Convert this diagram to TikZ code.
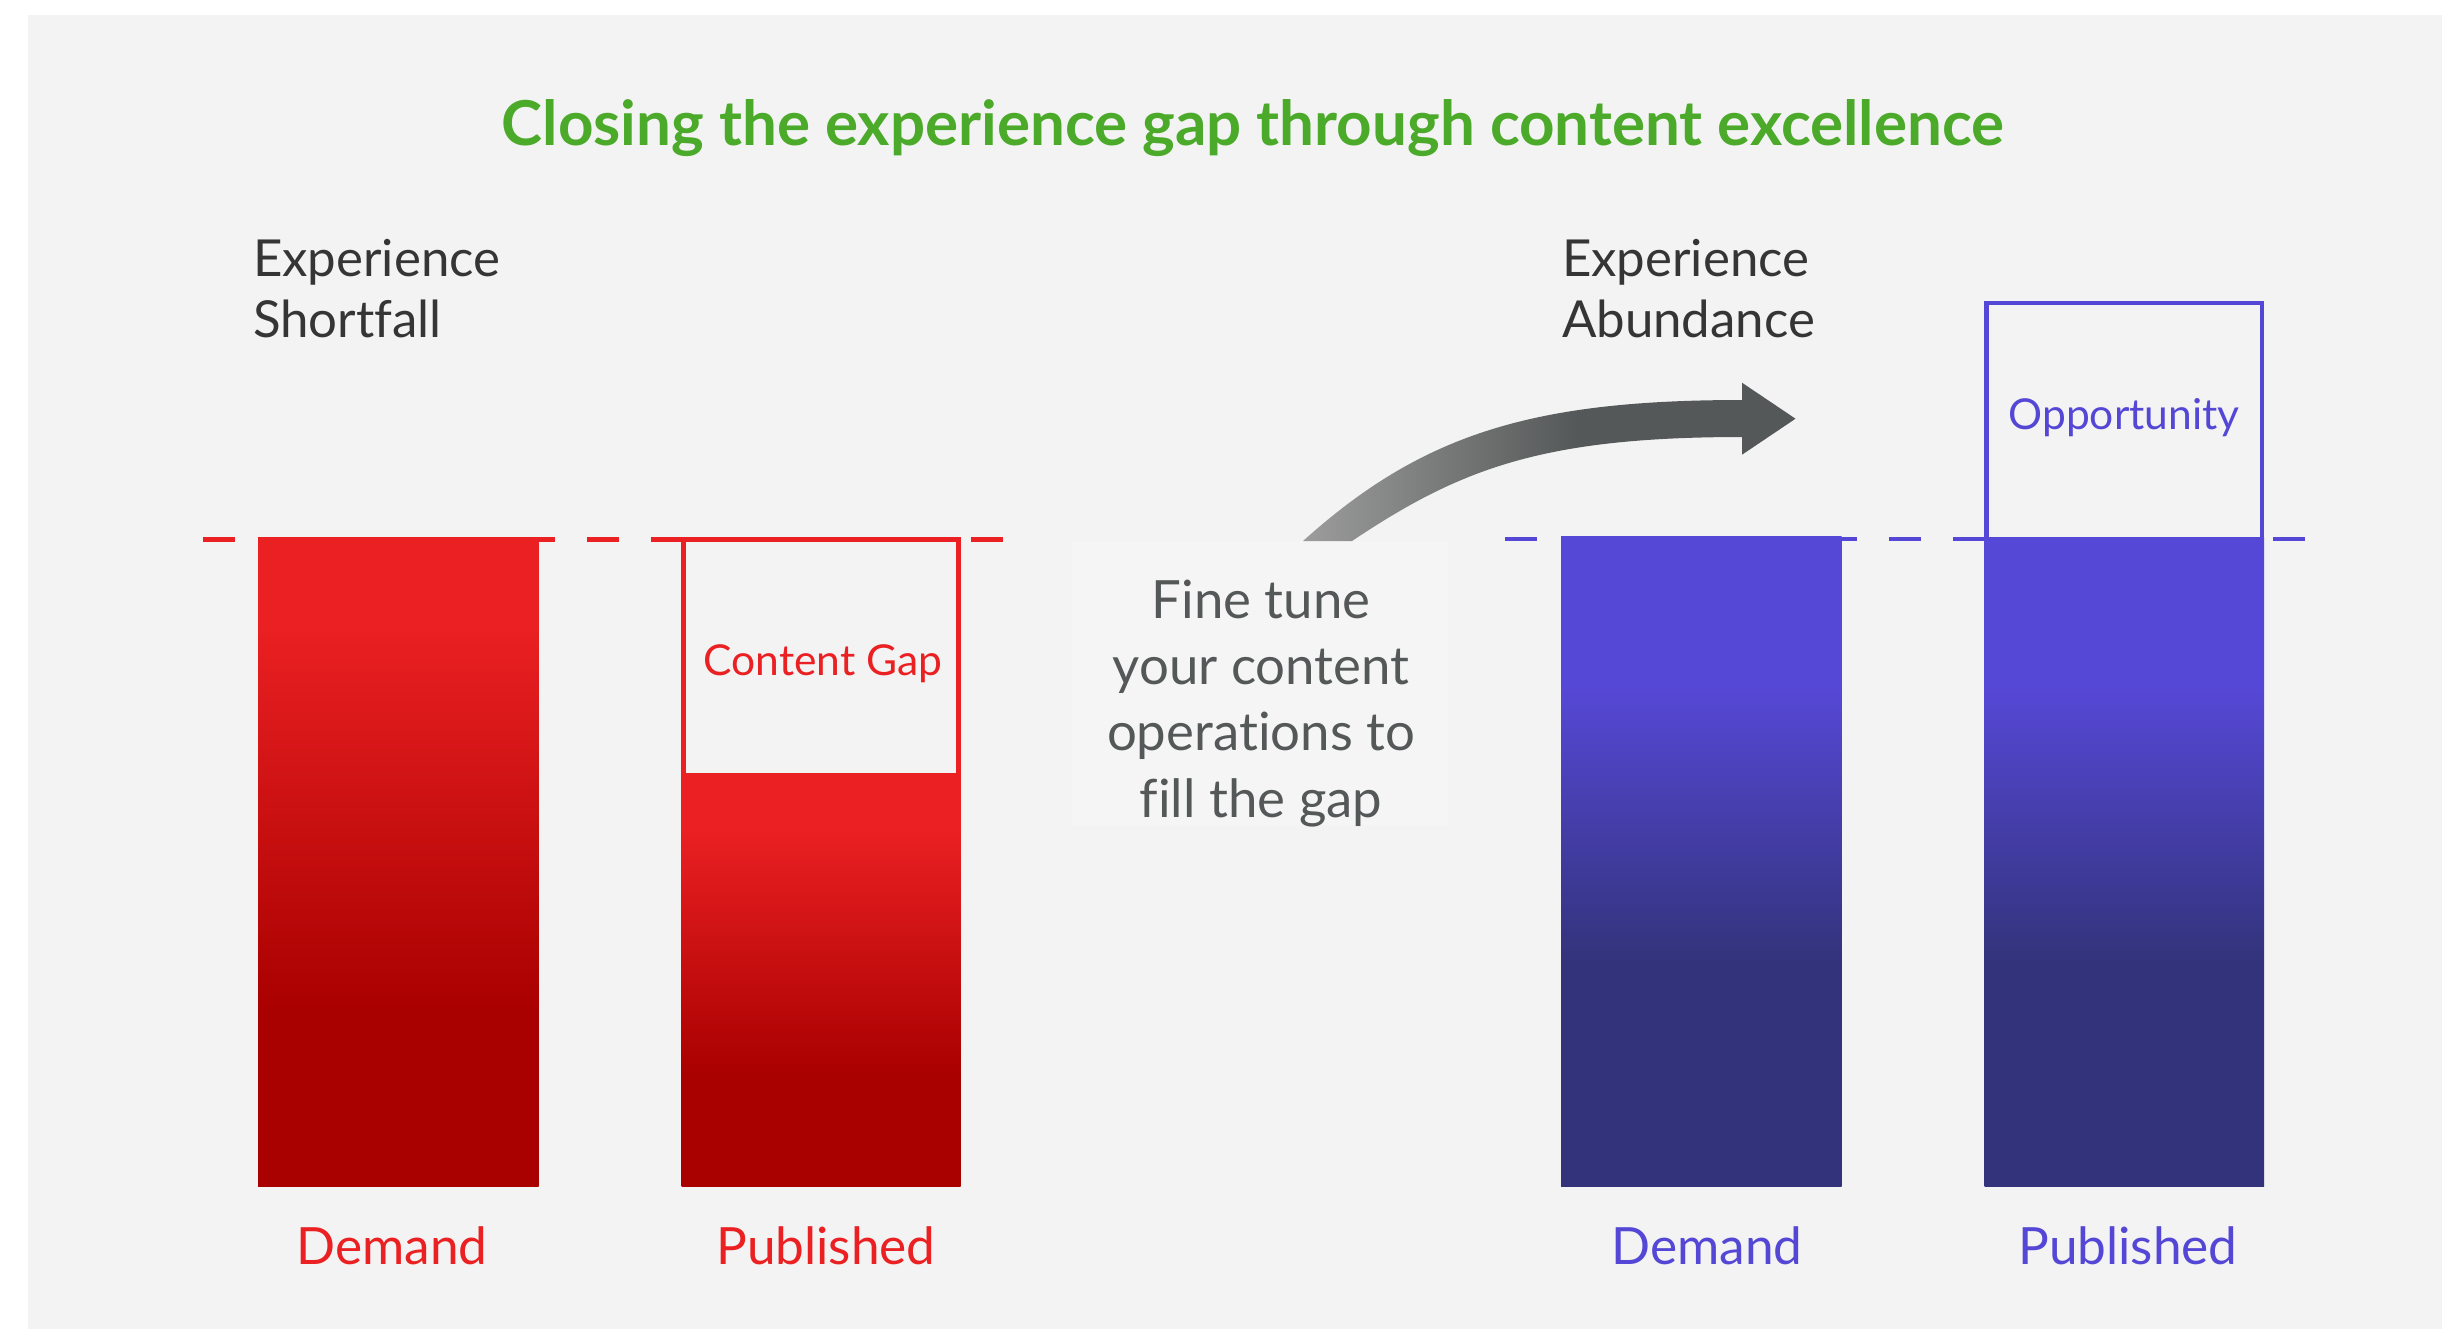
\documentclass[tikz,border=0pt]{standalone}
\usepackage{fontspec}
\setmainfont{Lato}[Ligatures=NoCommon]

\definecolor{bg}{HTML}{F3F3F3}
\definecolor{boxbg}{HTML}{F5F5F5}
\definecolor{titlegreen}{HTML}{4BAA2A}
\definecolor{darktext}{HTML}{353535}
\definecolor{graytext}{HTML}{555858}
\definecolor{redbright}{HTML}{EA2022}
\definecolor{reddark}{HTML}{A90000}
\definecolor{bluebright}{HTML}{5648D6}
\definecolor{bluedark}{HTML}{32337A}
\definecolor{blueline}{HTML}{5447D5}
\definecolor{arlight}{HTML}{9C9C9C}
\definecolor{ardark}{HTML}{555858}

% bar fills: dark at the foot, bright at the top (path spans 25bp..75bp)
\pgfdeclareverticalshading{redbar}{100bp}{color(0bp)=(reddark); color(38.5bp)=(reddark); color(68bp)=(redbright); color(100bp)=(redbright)}
\pgfdeclareverticalshading{bluebar}{100bp}{color(0bp)=(bluedark); color(42bp)=(bluedark); color(63.5bp)=(bluebright); color(100bp)=(bluebright)}
\pgfdeclarehorizontalshading{arrowshade}{100bp}{color(0bp)=(arlight); color(25bp)=(arlight); color(53bp)=(ardark); color(100bp)=(ardark)}

\begin{document}
\begin{tikzpicture}[x=0.01cm,y=-0.01cm,
  every node/.style={inner sep=0pt, outer sep=0pt},
  dashline/.style={line width=0.045cm, dash pattern=on 0.32cm off 0.32cm},
  boxline/.style={line width=0.043cm},
  titlestyle/.style={anchor=base, text=titlegreen, font=\bfseries\fontsize{17.6}{20}\selectfont},
  headlbl/.style={anchor=base west, align=left, text=darktext, font=\fontsize{14.5}{17.07}\selectfont},
  innerlbl/.style={anchor=base, font=\fontsize{12.1}{14}\selectfont},
  barlbl/.style={anchor=base, font=\fontsize{14.6}{17}\selectfont},
  tunestyle/.style={anchor=base, align=center, text=graytext, font=\fontsize{15}{18.83}\selectfont}]
\useasboundingbox (0,0) rectangle (2442,1329);
\fill[white] (0,0) rectangle (2442,1329);
\fill[bg] (28,15) rectangle (2442,1329);

% heading
\node[titlestyle] (title) at (1253,145) {Closing the experience gap through content excellence};

% group captions (anchored at the baseline of the last line)
\node[headlbl] (shortfall) at (253,337) {Experience\\Shortfall};
\node[headlbl] (abundance) at (1562,337) {Experience\\Abundance};

% ---- shortfall group ----
\draw[dashline, redbright] (203,539.5) -- (1003,539.5);
\shade[shading=redbar] (258,537) rectangle (538.5,1186.5);
\coordinate (demLfoot) at (392,1186.5);
\draw[boxline, redbright] (683.5,539.5) rectangle (958.5,775);
\shade[shading=redbar] (681.5,773) rectangle (960.5,1186.5);
\coordinate (pubLfoot) at (826,1186.5);
\node[innerlbl, text=redbright] (gap) at (823,675) {Content Gap};
\node[barlbl, text=redbright] (demL) at ([yshift=-0.775cm]demLfoot) {Demand};
\node[barlbl, text=redbright] (pubL) at ([yshift=-0.775cm]pubLfoot) {Published};

% ---- middle: note and arrow ----
\node[fill=boxbg, minimum width=3.76cm, minimum height=2.84cm] (tunebox) at (1260,683) {};
\node[tunestyle] (finetune) at (1261,817) {Fine tune\\your content\\operations to\\fill the gap};
\shade[shading=arrowshade] (1303,541) .. controls (1421.9,434) and (1532,400) .. (1742,400)
  -- (1742,382.7) -- (1795.5,418.7) -- (1742,454.7) -- (1742,437)
  .. controls (1542,437) and (1460,468.8) .. (1352,541) -- cycle;

% ---- abundance group ----
\draw[dashline, blueline] (1505,539) -- (2305,539);
\shade[shading=bluebar] (1561,536.5) rectangle (1841.5,1186.5);
\coordinate (demRfoot) at (1707,1186.5);
\draw[boxline, blueline] (1986.5,303) rectangle (2262,539);
\shade[shading=bluebar] (1984.5,537) rectangle (2264,1186.5);
\coordinate (pubRfoot) at (2128,1186.5);
\node[innerlbl, text=blueline] (opp) at (2124,429) {Opportunity};
\node[barlbl, text=blueline] (demR) at ([yshift=-0.775cm]demRfoot) {Demand};
\node[barlbl, text=blueline] (pubR) at ([yshift=-0.775cm]pubRfoot) {Published};
\end{tikzpicture}
\end{document}
